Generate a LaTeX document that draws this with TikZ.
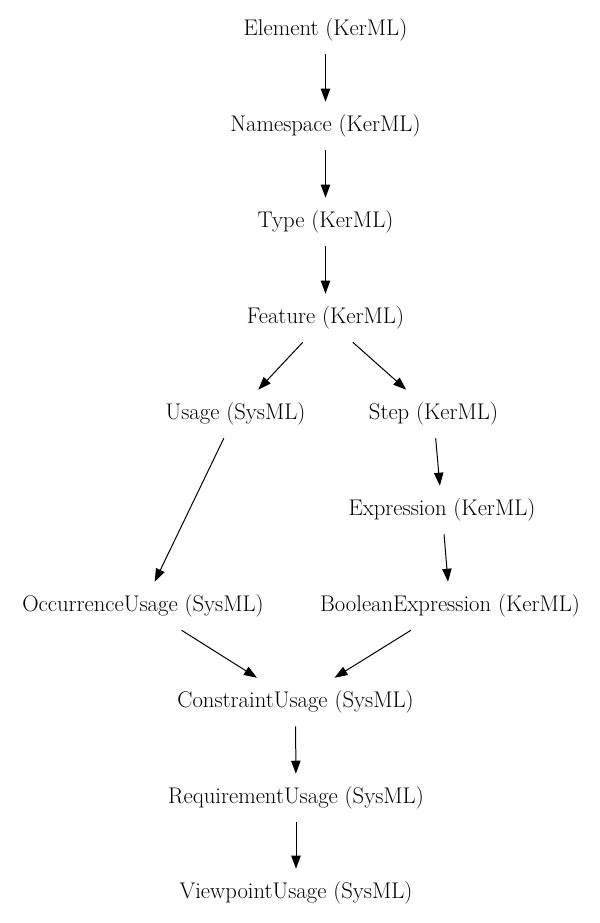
\documentclass[tikz,border=0pt]{standalone}
\usetikzlibrary{arrows.meta}
\begin{document}
\begin{tikzpicture}[x=0.75pt,y=-0.75pt,
  lbl/.style={inner sep=0pt, minimum height=36pt, font=\fontsize{17}{20}\selectfont},
  edge/.style={line width=0.75pt, -{Triangle[length=9.75pt,width=7pt]}}]
\useasboundingbox (0,0) rectangle (599,923);
\node[lbl] (element) at (325.5,30) {Element (KerML)};
\node[lbl] (namespace) at (325.5,126) {Namespace (KerML)};
\node[lbl] (type) at (325.5,222) {Type (KerML)};
\node[lbl] (feature) at (325.5,318) {Feature (KerML)};
\node[lbl] (usage) at (235.5,414) {Usage (SysML)};
\node[lbl] (step) at (433.5,414) {Step (KerML)};
\node[lbl] (expression) at (442,510) {Expression (KerML)};
\node[lbl] (occurrence) at (143,606) {OccurrenceUsage (SysML)};
\node[lbl] (boolean) at (450,606) {BooleanExpression (KerML)};
\node[lbl] (constraint) at (295.5,702) {ConstraintUsage (SysML)};
\node[lbl] (requirement) at (296,798) {RequirementUsage (SysML)};
\node[lbl] (viewpoint) at (296,893) {ViewpointUsage (SysML)};
\draw[edge] (element) -- (namespace);
\draw[edge] (namespace) -- (type);
\draw[edge] (type) -- (feature);
\draw[edge] (feature) -- (usage);
\draw[edge] (feature) -- (step);
\draw[edge] (usage) -- (occurrence);
\draw[edge] (step) -- (expression);
\draw[edge] (expression) -- (boolean);
\draw[edge] (occurrence) -- (constraint);
\draw[edge] (boolean) -- (constraint);
\draw[edge] (constraint) -- (requirement);
\draw[edge] (requirement) -- (viewpoint);
\end{tikzpicture}
\end{document}
